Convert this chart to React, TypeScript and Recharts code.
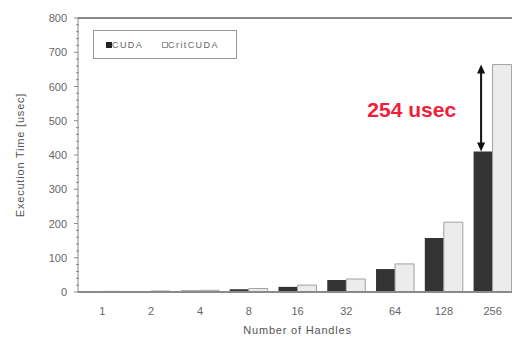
import React from 'react';
import { BarChart, Bar, XAxis, YAxis, ReferenceLine, LabelList } from 'recharts';

const handles = ['1', '2', '4', '8', '16', '32', '64', '128', '256'];
const cudaTimes = [2, 2, 4, 8, 15, 35, 67, 158, 410];
const critCudaTimes = [2, 3, 5, 10, 20, 38, 82, 204, 664];
const yTicks = [0, 20, 40, 60, 80, 100, 120, 140, 160, 180, 200, 220, 240, 260, 280, 300, 320, 340, 360, 380, 400, 420, 440, 460, 480, 500, 520, 540, 560, 580, 600, 620, 640, 660, 680, 700, 720, 740, 760, 780, 800];
const gapLabel = '254 usec';

const data = handles.map((h, i) => ({
  handles: h,
  cuda: cudaTimes[i],
  crit: critCudaTimes[i],
}));

const FONT = '"Liberation Sans", Arial, sans-serif';
const AXIS = '#8a8a8a';

function YTick(props: any) {
  const { x, y, payload } = props;
  const major = payload.value % 100 === 0;
  return (
    <g>
      <line x1={x - (major ? 4 : 2)} x2={x + (major ? 0 : 1)} y1={y} y2={y} stroke={AXIS} strokeWidth={1} />
      {major && (
        <text x={x - 11} y={y} dy={4} textAnchor="end" fontSize={11} fill="#666" fontFamily={FONT}>
          {payload.value}
        </text>
      )}
    </g>
  );
}

// arrow showing the gap between CUDA and CritCUDA at 256 handles
function GapArrow(props: any) {
  const { x, y, width, height, value, index } = props;
  if (index !== handles.length - 1 || !value) return null;
  const pxPerUnit = height / value;
  const top = y - (critCudaTimes[index] - value) * pxPerUnit;
  const ax = x + width / 2 - 2;
  return (
    <g>
      <line x1={ax} x2={ax} y1={top + 6} y2={y - 6} stroke="#111" strokeWidth={2} />
      <polygon points={`${ax},${top} ${ax - 4},${top + 9} ${ax + 4},${top + 9}`} fill="#111" />
      <polygon points={`${ax},${y} ${ax - 4},${y - 9} ${ax + 4},${y - 9}`} fill="#111" />
      <text
        x={ax - 25}
        y={(top + y) / 2}
        dy={9}
        textAnchor="end"
        fontSize={21}
        fontWeight="bold"
        fill="#f0203a"
        fontFamily={FONT}
      >
        {gapLabel}
      </text>
    </g>
  );
}

export default function App() {
  return (
    <div style={{ position: 'absolute', left: 0, top: 0, width: 512, height: 338, overflow: 'hidden', background: '#fff' }}>
      <BarChart
        width={530}
        height={338}
        data={data}
        margin={{ top: 18, right: 13, bottom: 0, left: 0 }}
        barCategoryGap="11%"
        barGap={0}
      >
        <XAxis
          dataKey="handles"
          height={46}
          stroke={AXIS}
          strokeWidth={2}
          tickLine={false}
          tick={{ fontSize: 11, fill: '#666', fontFamily: FONT }}
          tickMargin={9}
          label={{ value: 'Number of Handles', position: 'insideBottom', offset: 4, fontSize: 11, fill: '#555', fontFamily: FONT, letterSpacing: 0.8 }}
        />
        <YAxis
          width={78}
          domain={[0, 800]}
          ticks={yTicks}
          interval={0}
          stroke={AXIS}
          tickSize={0}
          tickMargin={0}
          tickLine={false}
          tick={<YTick />}
          label={{ value: 'Execution Time [usec]', angle: -90, position: 'insideLeft', offset: 20, fontSize: 11, fill: '#555', fontFamily: FONT, letterSpacing: 0.8, style: { textAnchor: 'middle' } }}
        />
        <ReferenceLine y={800} stroke={AXIS} strokeWidth={2} />
        <Bar dataKey="cuda" fill="#333333" isAnimationActive={false}>
          <LabelList dataKey="cuda" content={<GapArrow />} />
        </Bar>
        <Bar dataKey="crit" fill="#ececec" stroke="#a0a0a0" strokeWidth={1} isAnimationActive={false} />
      </BarChart>
      <div
        style={{
          position: 'absolute',
          left: 93,
          top: 30,
          width: 142,
          height: 27,
          border: '1px solid #999',
          display: 'flex',
          alignItems: 'center',
          fontFamily: FONT,
          fontSize: 9,
          letterSpacing: 1.4,
          color: '#666',
          boxSizing: 'content-box',
        }}
      >
        <span style={{ display: 'inline-block', width: 6, height: 6, background: '#222', marginLeft: 12 }} />
        <span>CUDA</span>
        <span style={{ display: 'inline-block', width: 6, height: 6, background: '#fff', border: '1px solid #999', marginLeft: 19, boxSizing: 'border-box' }} />
        <span>CritCUDA</span>
      </div>
    </div>
  );
}
